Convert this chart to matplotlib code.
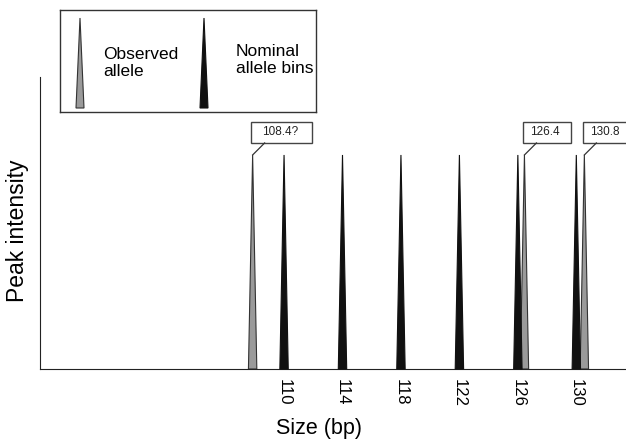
import matplotlib.pyplot as plt
from matplotlib.patches import Polygon, Rectangle

plt.rcParams['font.family'] = ['Liberation Sans', 'DejaVu Sans']

# nominal allele bins (bp) and observed alleles
bins = [110, 114, 118, 122, 126, 130]
observed_pos = [107.85, 126.45, 130.55]
observed_labels = ['108.4?', '126.4', '130.8']
peak_height = 0.733
tick_labels = ['110', '114', '118', '122', '126', '130']

W, H = 626, 444
fig = plt.figure(figsize=(W / 100, H / 100), dpi=100)
ax = fig.add_axes([40 / W, (H - 369) / H, 586 / W, 292 / H])
xmin, xmax = 93.3, 133.4
ax.set_xlim(xmin, xmax)
ax.set_ylim(0, 1)
px_x = (xmax - xmin) / 586.0   # bp per pixel
px_y = 1 / 292.0


def peak(a, x, h, face, edge, half=4.2, z=2):
    pts = [(x - half * px_x, 0), (x, h), (x + half * px_x, 0)]
    a.add_patch(Polygon(pts, closed=True, facecolor=face, edgecolor=edge,
                        linewidth=0.8, zorder=z, clip_on=False))


for x in observed_pos:
    peak(ax, x, peak_height, '#9a9a9a', '#333333', z=2)
for x in bins:
    peak(ax, x, peak_height, '#111111', '#111111', z=3)

# label boxes with leader lines
box_w = [61, 48, 48]
for x, lab, bw in zip(observed_pos, observed_labels, box_w):
    left = x - 1.5 * px_x
    bottom = peak_height + 12 * px_y
    ax.add_patch(Rectangle((left, bottom), bw * px_x, 21 * px_y, facecolor='white',
                           edgecolor='#444444', linewidth=1.0, clip_on=False, zorder=4))
    ax.text(left + bw * px_x / 2 - 2 * px_x, bottom + 10.5 * px_y, lab, fontsize=8.5,
            ha='center', va='center', zorder=5, color='#222222')
    ax.plot([x, x + 12 * px_x], [peak_height, bottom], color='#333333', lw=0.9,
            clip_on=False, zorder=4)

for s in ['top', 'right']:
    ax.spines[s].set_visible(False)
ax.spines['left'].set_color('#222222')
ax.spines['bottom'].set_color('#222222')
ax.set_xticks(bins)
ax.set_xticklabels(tick_labels, rotation=-90, fontsize=12)
ax.set_yticks([])
ax.tick_params(axis='x', length=0, pad=7)
fig.text(18 / W, 1 - 231 / H, 'Peak intensity', rotation=90, fontsize=16.5,
         ha='center', va='center')
fig.text(319 / W, 1 - 428 / H, 'Size (bp)', fontsize=15.5, ha='center', va='center')

# legend box
lg = fig.add_axes([60 / W, 1 - 112 / H, 256 / W, 102 / H])
lg.set_xlim(0, 256)
lg.set_ylim(102, 0)
lg.set_xticks([])
lg.set_yticks([])
for s in lg.spines.values():
    s.set_color('#333333')
    s.set_linewidth(1.0)
lg.add_patch(Polygon([(16, 98), (20, 8), (24, 98)], closed=True, facecolor='#9a9a9a',
                     edgecolor='#333333', linewidth=0.8))
lg.add_patch(Polygon([(140, 98), (144, 8), (148, 98)], closed=True, facecolor='#111111',
                     edgecolor='#111111', linewidth=0.8))
lg.text(43, 53, 'Observed\nallele', fontsize=12.5, va='center', ha='left', linespacing=1.1)
lg.text(176, 50, 'Nominal\nallele bins', fontsize=12.5, va='center', ha='left', linespacing=1.1)

fig.savefig('out.png', dpi=100)
